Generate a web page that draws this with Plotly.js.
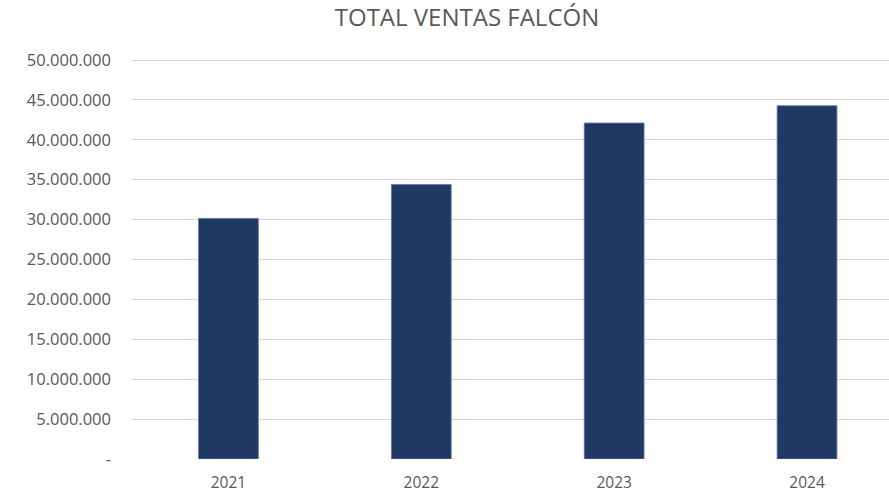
<!DOCTYPE html>
<html>
<head>
<meta charset="utf-8">
<script src="https://cdn.plot.ly/plotly-3.0.1.min.js"></script>
<style>html,body{margin:0;padding:0;background:#fff}#chart{width:889px;height:492px}</style>
</head>
<body>
<div id="chart"></div>
<script>
const years = ['2021', '2022', '2023', '2024'];
const ventas = [30150000, 34400000, 42100000, 44270000];
const yTickVals = [0, 5000000, 10000000, 15000000, 20000000, 25000000, 30000000, 35000000, 40000000, 45000000, 50000000];
const yTickText = ['-', '5.000.000', '10.000.000', '15.000.000', '20.000.000', '25.000.000', '30.000.000', '35.000.000', '40.000.000', '45.000.000', '50.000.000'];
const chartTitle = 'TOTAL VENTAS FALCÓN';

const trace = {
  type: 'bar',
  x: years,
  y: ventas,
  marker: {color: '#203864', line: {color: '#5a78a8', width: 0.8}},
  hoverinfo: 'x+y'
};

const layout = {
  width: 889, height: 492,
  margin: {l: 132, r: 0, t: 58, b: 33},
  paper_bgcolor: '#ffffff', plot_bgcolor: '#ffffff',
  font: {family: 'Open Sans, sans-serif', color: '#595959', size: 15},
  title: {text: chartTitle, x: 467/889, xref: 'container', xanchor: 'center', y: 1 - 18/492, yref: 'container', yanchor: 'middle',
          font: {family: 'Open Sans, sans-serif', size: 24, color: '#595959'}},
  bargap: 0.69,
  showlegend: false,
  xaxis: {type: 'category', range: [-0.5, 3.425], showgrid: false, zeroline: false, showline: false,
          ticks: '', ticklabelstandoff: 12, tickfont: {size: 15.5, color: '#595959'}},
  yaxis: {range: [0, 50250000], tickvals: yTickVals, ticktext: yTickText, showgrid: true, gridcolor: '#d9d9d9', gridwidth: 1,
          zeroline: false, showline: false, ticks: '', ticklabelstandoff: 20, tickfont: {size: 16.5, color: '#595959'}}
};

Plotly.newPlot('chart', [trace], layout, {displayModeBar: false, staticPlot: true});
</script>
</body>
</html>
